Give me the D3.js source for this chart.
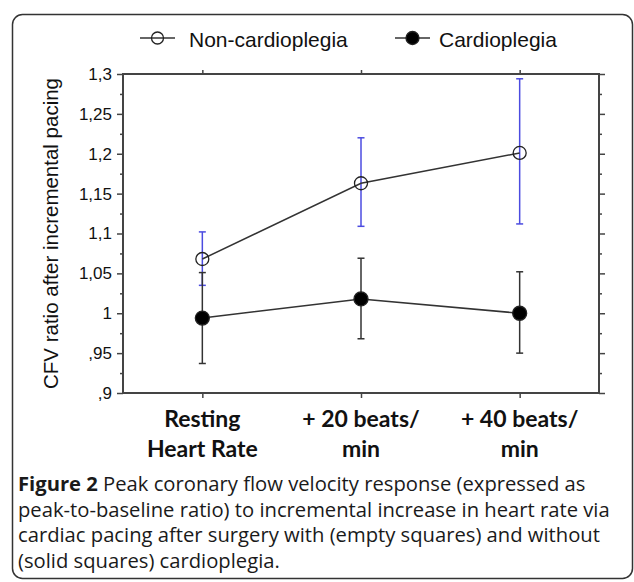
<!DOCTYPE html>
<html>
<head>
<meta charset="utf-8">
<script src="https://cdn.jsdelivr.net/npm/d3@7"></script>
<style>
  body { margin: 0; background: #fff; }
  svg { display: block; }
</style>
</head>
<body>
<div id="chart"></div>
<script>
const width = 634;
const height = 582;
const margin = { top: 74, right: 35, bottom: 189, left: 123 };

// categories on the x axis (two text lines each)
const categories = ['rest', 'plus20', 'plus40'];
const categoryLines = [['Resting', 'Heart Rate'], ['+ 20 beats/', 'min'], ['+ 40 beats/', 'min']];

// y ticks, labelled the way the figure does (comma, no leading zero)
const yTicks = [0.9, 0.95, 1, 1.05, 1.1, 1.15, 1.2, 1.25, 1.3];
const yTickLabels = [',9', ',95', '1', '1,05', '1,1', '1,15', '1,2', '1,25', '1,3'];
const yMinorTicks = [0.925, 0.975, 1.025, 1.075, 1.125, 1.175, 1.225, 1.275];

// series: mean, upper and lower end of the error bar
const nonMean = [1.068, 1.163, 1.201];
const nonHigh = [1.102, 1.220, 1.294];
const nonLow = [1.035, 1.109, 1.112];

const cardMean = [0.994, 1.018, 1.000];
const cardHigh = [1.051, 1.069, 1.052];
const cardLow = [0.937, 0.968, 0.950];

const legendNames = ['Non-cardioplegia', 'Cardioplegia'];

const captionBold = 'Figure 2';
const captionLines = [
    ' Peak coronary flow velocity response (expressed as',
    'peak-to-baseline ratio) to incremental increase in heart rate via',
    'cardiac pacing after surgery with (empty squares) and without',
    '(solid squares) cardioplegia.'
];

const axisColor = '#444';
const lineColor = '#333';
const blue = '#4b4be0';

const svg = d3.select('#chart')
    .append('svg')
    .attr('width', width)
    .attr('height', height);

// rounded frame round figure and caption
svg.append('rect')
    .attr('x', 12.5)
    .attr('y', 14.5)
    .attr('width', 620)
    .attr('height', 564)
    .attr('rx', 10)
    .attr('fill', 'none')
    .attr('stroke', '#333')
    .attr('stroke-width', 1.5);

const x0 = margin.left;
const x1 = width - margin.right;
const y0 = height - margin.bottom;
const y1 = margin.top;

const xScale = d3.scalePoint()
    .domain(categories)
    .range([x0, x1])
    .padding(0.5);

const yScale = d3.scaleLinear()
    .domain([0.9, 1.3])
    .range([y0, y1]);

// left axis
const leftAxis = d3.axisLeft(yScale)
    .tickValues(yTicks)
    .tickFormat((d, i) => yTickLabels[i])
    .tickSize(6)
    .tickPadding(5);

const gLeft = svg.append('g')
    .attr('transform', `translate(${x0},0)`)
    .call(leftAxis);
gLeft.select('.domain').remove();
gLeft.selectAll('line').attr('stroke', axisColor).attr('stroke-width', 1.5);
gLeft.selectAll('text')
    .attr('fill', '#111')
    .style('font-family', 'Liberation Sans, Arial, sans-serif')
    .style('font-size', '17px');

svg.append('g')
    .attr('transform', `translate(${x0},0)`)
    .call(d3.axisLeft(yScale).tickValues(yMinorTicks).tickSize(3).tickFormat(''))
    .call(g => g.select('.domain').remove())
    .selectAll('line').attr('stroke', axisColor).attr('stroke-width', 1.5);

// right axis: ticks only
[[yTicks, 6], [yMinorTicks, 3]].forEach(([vals, size]) => {
    svg.append('g')
        .attr('transform', `translate(${x1},0)`)
        .call(d3.axisRight(yScale).tickValues(vals).tickSize(size).tickFormat(''))
        .call(g => g.select('.domain').remove())
        .selectAll('line').attr('stroke', axisColor).attr('stroke-width', 1.5);
});

// top and bottom category ticks
svg.append('g')
    .attr('transform', `translate(0,${y1})`)
    .call(d3.axisTop(xScale).tickSize(4).tickFormat(''))
    .call(g => g.select('.domain').remove())
    .selectAll('line').attr('stroke', axisColor).attr('stroke-width', 1.5);

svg.append('g')
    .attr('transform', `translate(0,${y0})`)
    .call(d3.axisBottom(xScale).tickSize(5).tickFormat(''))
    .call(g => g.select('.domain').remove())
    .selectAll('line').attr('stroke', axisColor).attr('stroke-width', 1.5);

// plot frame
svg.append('rect')
    .attr('x', x0)
    .attr('y', y1)
    .attr('width', x1 - x0)
    .attr('height', y0 - y1)
    .attr('fill', 'none')
    .attr('stroke', axisColor)
    .attr('stroke-width', 2);

// category labels
const xLab = svg.append('g')
    .selectAll('text')
    .data(categories)
    .join('text')
    .attr('text-anchor', 'middle')
    .attr('fill', '#111')
    .style('font-family', 'Lato, sans-serif')
    .style('font-weight', 'bold')
    .style('font-size', '23px');

xLab.selectAll('tspan')
    .data((d, i) => categoryLines[i].map(t => ({ t: t, c: d })))
    .join('tspan')
    .attr('x', d => xScale(d.c))
    .attr('y', (d, j) => 427 + j * 30)
    .text(d => d.t);

// y axis title
svg.append('text')
    .attr('transform', `translate(58,${(y0 + y1) / 2}) rotate(-90)`)
    .attr('text-anchor', 'middle')
    .attr('fill', '#111')
    .style('font-family', 'Liberation Sans, Arial, sans-serif')
    .style('font-size', '20.5px')
    .text('CFV ratio after incremental pacing');

// series
const series = [
    { mean: nonMean, high: nonHigh, low: nonLow, bar: blue, fill: 'none', r: 6.5 },
    { mean: cardMean, high: cardHigh, low: cardLow, bar: lineColor, fill: '#000', r: 7 }
];

const line = d3.line()
    .x((d, i) => xScale(categories[i]))
    .y(d => yScale(d));

series.forEach(s => {
    const g = svg.append('g');
    const rows = categories.map((c, i) => ({ c: c, m: s.mean[i], hi: s.high[i], lo: s.low[i] }));

    g.selectAll('line.bar')
        .data(rows)
        .join('line')
        .attr('x1', d => xScale(d.c))
        .attr('x2', d => xScale(d.c))
        .attr('y1', d => yScale(d.hi))
        .attr('y2', d => yScale(d.lo))
        .attr('stroke', s.bar)
        .attr('stroke-width', 1.5);

    ['hi', 'lo'].forEach(k => {
        g.selectAll('line.cap-' + k)
            .data(rows)
            .join('line')
            .attr('x1', d => xScale(d.c) - 3.5)
            .attr('x2', d => xScale(d.c) + 3.5)
            .attr('y1', d => yScale(d[k]))
            .attr('y2', d => yScale(d[k]))
            .attr('stroke', s.bar)
            .attr('stroke-width', 1.5);
    });

    g.append('path')
        .datum(s.mean)
        .attr('d', line)
        .attr('fill', 'none')
        .attr('stroke', lineColor)
        .attr('stroke-width', 1.5);

    g.selectAll('circle')
        .data(rows)
        .join('circle')
        .attr('cx', d => xScale(d.c))
        .attr('cy', d => yScale(d.m))
        .attr('r', s.r)
        .attr('fill', s.fill)
        .attr('stroke', '#222')
        .attr('stroke-width', 1.3);
});

// legend
const legendX = [140, 395];
const legend = svg.append('g')
    .selectAll('g')
    .data(legendNames)
    .join('g')
    .attr('transform', (d, i) => `translate(${legendX[i]},38)`);

legend.append('line')
    .attr('x1', 0).attr('x2', 35)
    .attr('stroke', lineColor)
    .attr('stroke-width', 1.5);

legend.append('circle')
    .attr('cx', 17.5)
    .attr('r', (d, i) => i === 0 ? 6 : 6.5)
    .attr('fill', (d, i) => i === 0 ? 'none' : '#000')
    .attr('stroke', '#222')
    .attr('stroke-width', 1.3);

legend.append('text')
    .attr('x', (d, i) => i === 0 ? 49 : 44)
    .attr('y', 9)
    .attr('fill', '#111')
    .style('font-family', 'Liberation Sans, Arial, sans-serif')
    .style('font-size', '21px')
    .text(d => d);

// caption, sized so the second line fills the frame width
const caption = svg.append('g')
    .style('font-family', 'Open Sans, sans-serif')
    .attr('fill', '#1a1a1a');

const capTexts = caption.selectAll('text')
    .data(captionLines)
    .join('text')
    .attr('x', 18)
    .attr('y', (d, i) => 491 + i * 25.5)
    .style('font-size', '17px');

capTexts.each(function (d, i) {
    const t = d3.select(this);
    if (i === 0) {
        t.append('tspan').style('font-weight', 'bold').text(captionBold);
    }
    t.append('tspan').text(d);
});

const w2 = capTexts.filter((d, i) => i === 1).node().getComputedTextLength();
const capSize = 17 * 592 / w2;
capTexts.style('font-size', capSize + 'px');
</script>
</body>
</html>
